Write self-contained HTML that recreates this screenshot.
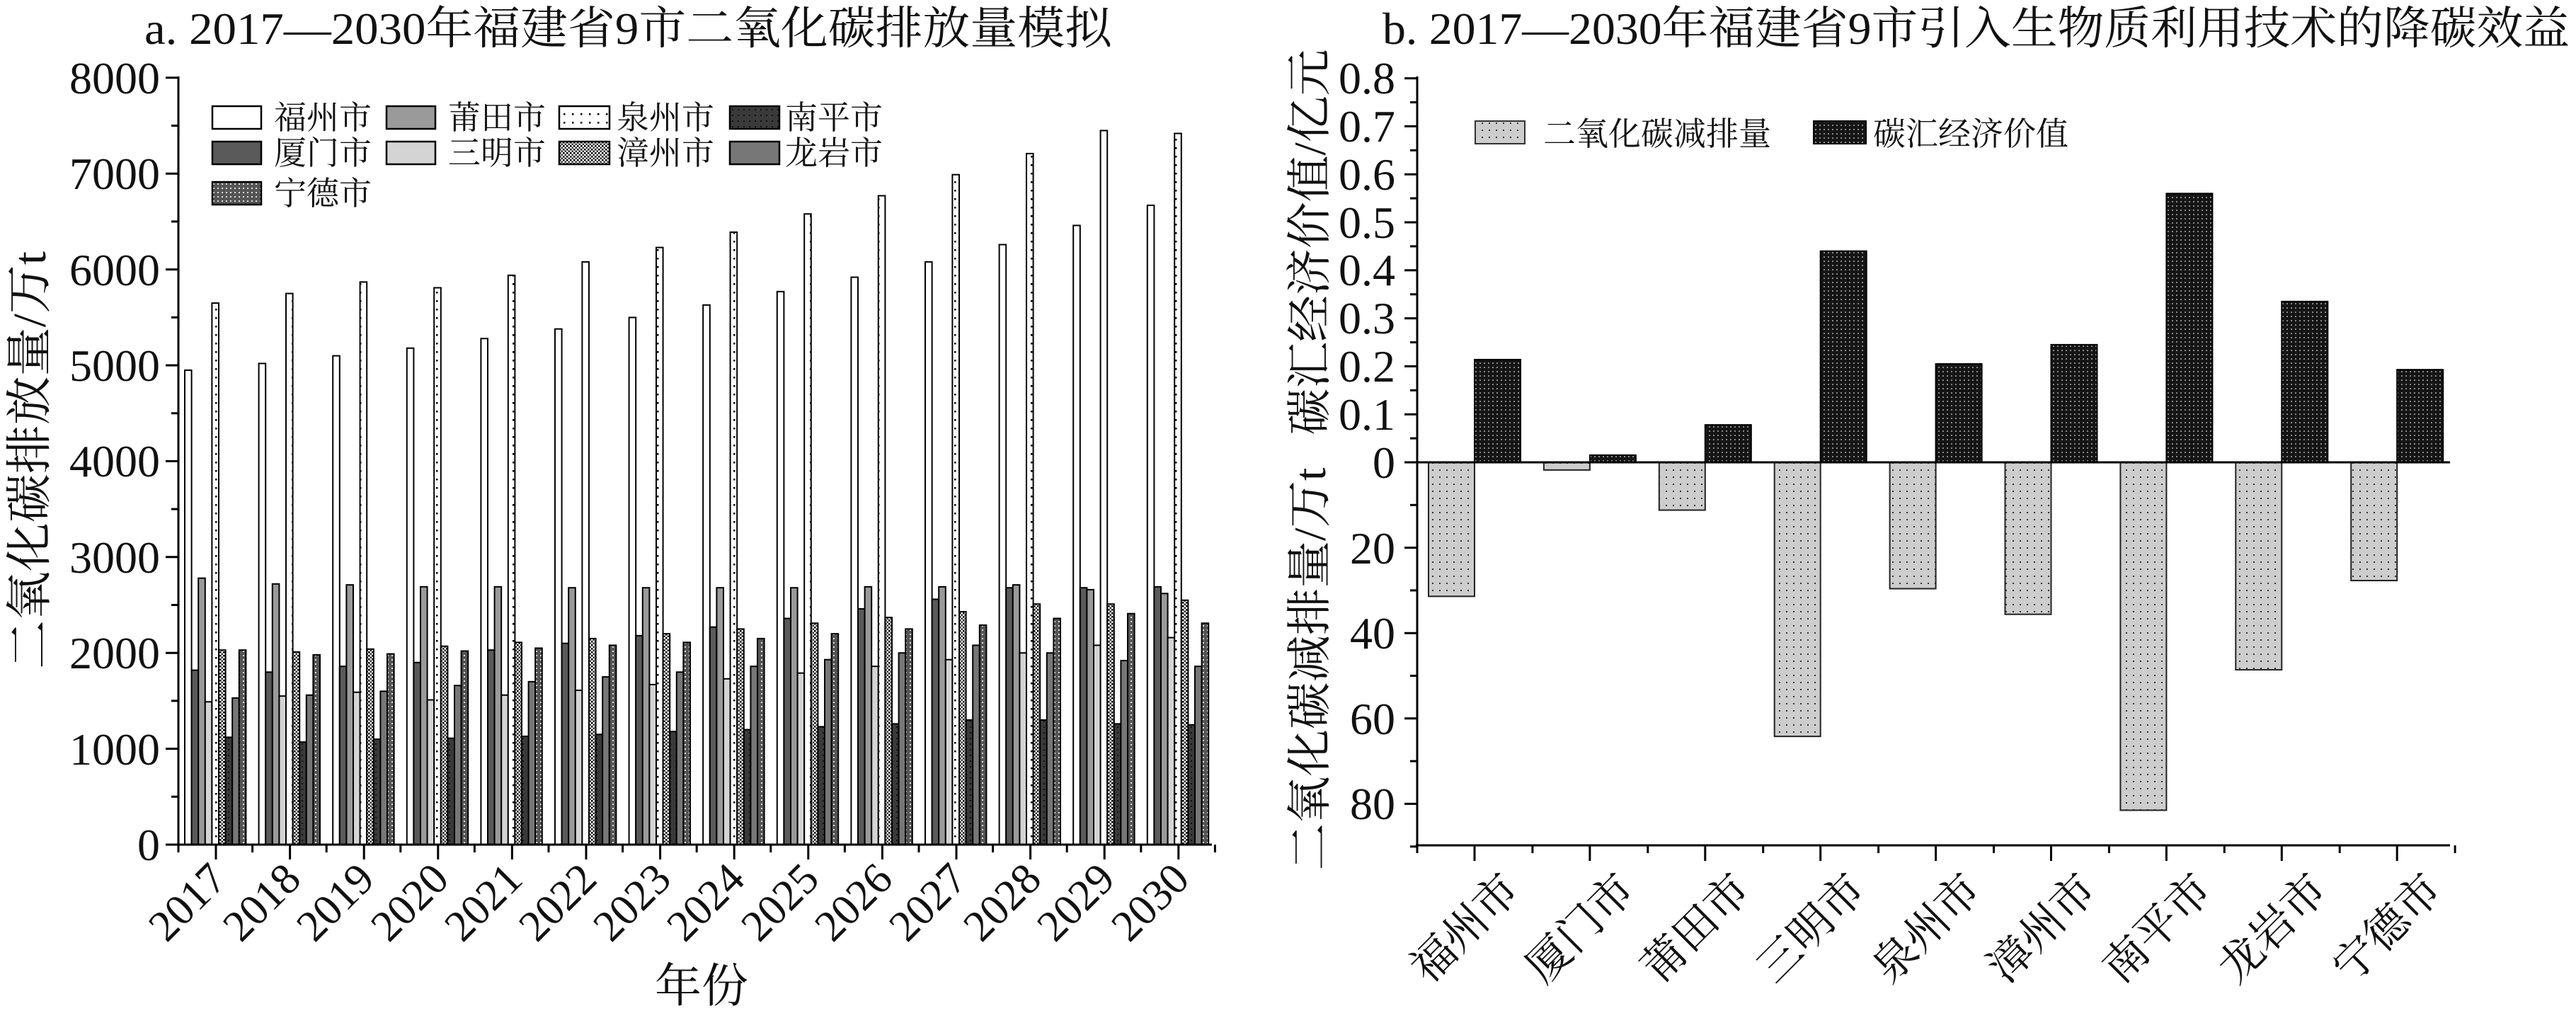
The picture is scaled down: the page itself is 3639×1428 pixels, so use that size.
<!DOCTYPE html>
<html><head><meta charset="utf-8"><style>
html,body{margin:0;padding:0;background:#fff;}
svg{display:block;}
text{font-family:"Liberation Serif","Times New Roman","Noto Serif CJK SC","Noto Sans CJK SC",serif;fill:#111;}
</style></head><body>
<svg id="s" width="3639" height="1428" viewBox="0 0 3639 1428" xmlns="http://www.w3.org/2000/svg">
<defs>
<pattern id="pdot" width="12" height="12" patternUnits="userSpaceOnUse"><rect width="12" height="12" fill="#fff"/><rect x="4" y="4" width="2.5" height="2.5" fill="#000"/></pattern>
<pattern id="pchk" width="5" height="5" patternUnits="userSpaceOnUse"><rect width="5" height="5" fill="#fff"/><rect width="2.5" height="2.5" fill="#000"/><rect x="2.5" y="2.5" width="2.5" height="2.5" fill="#333"/></pattern>
<pattern id="pnd" width="6" height="6" patternUnits="userSpaceOnUse"><rect width="6" height="6" fill="#555"/><rect x="1" y="1" width="2" height="2" fill="#ddd"/></pattern>
<pattern id="pnp" width="8" height="8" patternUnits="userSpaceOnUse"><rect width="8" height="8" fill="#3a3a3a"/><rect x="2" y="2" width="2" height="2" fill="#111"/></pattern>
<pattern id="pneg" width="10" height="10" patternUnits="userSpaceOnUse"><rect width="10" height="10" fill="#cdcdcd"/><rect x="3" y="3" width="2" height="2" fill="#333"/></pattern>
<pattern id="ppos" width="6" height="6" patternUnits="userSpaceOnUse"><rect width="6" height="6" fill="#151515"/><rect x="2" y="2" width="2" height="2" fill="#888"/></pattern>
</defs>

<text x="204" y="62" font-size="64" textLength="1367" lengthAdjust="spacingAndGlyphs">a. 2017—2030年福建省9市二氧化碳排放量模拟</text>
<text x="1953" y="62" font-size="64" textLength="1677" lengthAdjust="spacingAndGlyphs">b. 2017—2030年福建省9市引入生物质利用技术的降碳效益</text>

<text transform="translate(64,650) rotate(-90)" text-anchor="middle" font-size="66" textLength="590" lengthAdjust="spacingAndGlyphs">二氧化碳排放量/万t</text>
<text x="991" y="1415" text-anchor="middle" font-size="66">年份</text>
<g font-size="64" text-anchor="end">
<text x="226" y="132">8000</text>
<text x="226" y="267">7000</text>
<text x="226" y="403">6000</text>
<text x="226" y="538">5000</text>
<text x="226" y="673">4000</text>
<text x="226" y="809">3000</text>
<text x="226" y="944">2000</text>
<text x="226" y="1080">1000</text>
<text x="226" y="1215">0</text>
</g>
<g font-size="62" text-anchor="end">
<text transform="translate(323,1245) rotate(-45)">2017</text>
<text transform="translate(428,1245) rotate(-45)">2018</text>
<text transform="translate(532,1245) rotate(-45)">2019</text>
<text transform="translate(637,1245) rotate(-45)">2020</text>
<text transform="translate(741,1245) rotate(-45)">2021</text>
<text transform="translate(846,1245) rotate(-45)">2022</text>
<text transform="translate(951,1245) rotate(-45)">2023</text>
<text transform="translate(1055,1245) rotate(-45)">2024</text>
<text transform="translate(1160,1245) rotate(-45)">2025</text>
<text transform="translate(1264,1245) rotate(-45)">2026</text>
<text transform="translate(1369,1245) rotate(-45)">2027</text>
<text transform="translate(1474,1245) rotate(-45)">2028</text>
<text transform="translate(1578,1245) rotate(-45)">2029</text>
<text transform="translate(1683,1245) rotate(-45)">2030</text>
</g>

<g font-size="46" stroke="#000" stroke-width="2.5">
<rect x="300" y="150" width="69" height="32" fill="#fff"/>
<rect x="546" y="150" width="69" height="32" fill="#9a9a9a"/>
<rect x="790" y="150" width="71" height="32" fill="url(#pdot)"/>
<rect x="1031" y="150" width="70" height="32" fill="url(#pnp)"/>
<rect x="300" y="200" width="69" height="32" fill="#5a5a5a"/>
<rect x="546" y="200" width="69" height="32" fill="#d4d4d4"/>
<rect x="790" y="200" width="71" height="32" fill="url(#pchk)"/>
<rect x="1031" y="200" width="70" height="32" fill="#777"/>
<rect x="300" y="257" width="69" height="32" fill="url(#pnd)"/>
</g>
<g font-size="46">
<text x="387" y="182">福州市</text>
<text x="633" y="182">莆田市</text>
<text x="871" y="182">泉州市</text>
<text x="1109" y="182">南平市</text>
<text x="387" y="232">厦门市</text>
<text x="633" y="232">三明市</text>
<text x="871" y="232">漳州市</text>
<text x="1109" y="232">龙岩市</text>
<text x="387" y="289">宁德市</text>
</g>

<g id="leftbars"></g>
<g id="rightbars"></g>
<g id="axes" stroke="#000" stroke-width="3" fill="none"></g>

<text transform="translate(1872,342) rotate(-90)" text-anchor="middle" font-size="64" textLength="545" lengthAdjust="spacingAndGlyphs">碳汇经济价值/亿元</text>
<text transform="translate(1872,945) rotate(-90)" text-anchor="middle" font-size="64" textLength="569" lengthAdjust="spacingAndGlyphs">二氧化碳减排量/万t</text>
<g font-size="64" text-anchor="end">
<text x="1971" y="132">0.8</text>
<text x="1971" y="200">0.7</text>
<text x="1971" y="268">0.6</text>
<text x="1971" y="336">0.5</text>
<text x="1971" y="403">0.4</text>
<text x="1971" y="471">0.3</text>
<text x="1971" y="539">0.2</text>
<text x="1971" y="607">0.1</text>
<text x="1971" y="675">0</text>
<text x="1971" y="796">20</text>
<text x="1971" y="916">40</text>
<text x="1971" y="1037">60</text>
<text x="1971" y="1157">80</text>
</g>
<g font-size="62" text-anchor="end">
<text transform="translate(2150,1260) rotate(-45)">福州市</text>
<text transform="translate(2313,1260) rotate(-45)">厦门市</text>
<text transform="translate(2476,1260) rotate(-45)">莆田市</text>
<text transform="translate(2639,1260) rotate(-45)">三明市</text>
<text transform="translate(2802,1260) rotate(-45)">泉州市</text>
<text transform="translate(2965,1260) rotate(-45)">漳州市</text>
<text transform="translate(3128,1260) rotate(-45)">南平市</text>
<text transform="translate(3291,1260) rotate(-45)">龙岩市</text>
<text transform="translate(3453,1260) rotate(-45)">宁德市</text>
</g>
<rect x="2084" y="171" width="70" height="32" fill="url(#pneg)" stroke="#333" stroke-width="2"/>
<rect x="2562" y="171" width="74" height="32" fill="url(#ppos)" stroke="#000" stroke-width="2"/>
<text x="2180" y="205" font-size="46">二氧化碳减排量</text>
<text x="2646" y="205" font-size="46">碳汇经济价值</text>
</svg>
<script>
(function(){
var NS="http://www.w3.org/2000/svg";
function el(p,t,a){var e=document.createElementNS(NS,t);for(var k in a)e.setAttribute(k,a[k]);p.appendChild(e);return e;}
var D=[
[4950,5020,5100,5180,5280,5380,5500,5630,5770,5920,6080,6260,6460,6670],
[1820,1800,1860,1900,2030,2100,2180,2270,2360,2460,2560,2680,2680,2690],
[2780,2720,2710,2690,2690,2680,2680,2680,2680,2690,2690,2710,2660,2620],
[1490,1550,1590,1510,1560,1610,1670,1730,1790,1860,1930,2000,2080,2160],
[5650,5750,5870,5810,5940,6080,6230,6390,6580,6770,6990,7210,7450,7420],
[2030,2010,2040,2070,2110,2150,2200,2250,2310,2370,2430,2510,2510,2550],
[1120,1070,1100,1110,1130,1150,1180,1200,1230,1260,1300,1300,1260,1250],
[1530,1560,1600,1660,1700,1750,1800,1860,1930,2000,2080,2000,1920,1860],
[2030,1980,1990,2020,2050,2080,2110,2150,2200,2250,2290,2360,2410,2310]];
var F=["#fff","#5a5a5a","#9a9a9a","#d4d4d4","url(#pdot)","url(#pchk)","url(#pnp)","#777","url(#pnd)"];
var lb=document.getElementById("leftbars");
for(var k=0;k<14;k++)for(var i=0;i<9;i++){
 var x=261+104.6*k+9.6*i,v=D[i][k],y=1193-v*0.13538;
 el(lb,"rect",{x:x,y:y,width:9.6,height:1193-y,fill:F[i],stroke:"#000","stroke-width":2});
}
var pos=[0.214,0.015,0.078,0.44,0.205,0.245,0.56,0.335,0.193];
var neg=[31.4,1.8,11.2,64.2,29.6,35.6,81.5,48.6,27.7];
var rb=document.getElementById("rightbars");
for(var j=0;j<9;j++){
 var t=2083+162.9*j;
 el(rb,"rect",{x:t-65,y:653,width:65,height:neg[j]*6.03,fill:"url(#pneg)",stroke:"#222","stroke-width":2});
 var h=pos[j]*678;
 el(rb,"rect",{x:t,y:653-h,width:65,height:h,fill:"url(#ppos)",stroke:"#000","stroke-width":2});
}
var ax=document.getElementById("axes");
function ln(x1,y1,x2,y2){el(ax,"line",{x1:x1,y1:y1,x2:x2,y2:y2});}
ln(252,108,252,1194);ln(250,1193,1712,1193);
for(var m=0;m<=16;m++){var yy=1193-m*67.7;ln(m%2?242:234,yy,252,yy);}
for(var k=0;k<=14;k++){ln(252+104.6*k,1193,252+104.6*k,1204);}
for(var k=0;k<14;k++){ln(305+104.6*k,1193,305+104.6*k,1214);}
ln(2002,108,2002,1196);ln(2000,1194,3461,1194);ln(2002,653,3461,653);
for(var m=0;m<=16;m++){var yy=653-m*33.9;ln(m%2?1992:1984,yy,2002,yy);}
for(var m=1;m<=9;m++){var yy=653+m*60.3;ln(m%2?1992:1984,yy,2002,yy);}
for(var j=0;j<=9;j++){ln(2002+162.9*j,1194,2002+162.9*j,1205);}
for(var j=0;j<9;j++){ln(2083+162.9*j,1194,2083+162.9*j,1216);}
})();
</script>
</body></html>
